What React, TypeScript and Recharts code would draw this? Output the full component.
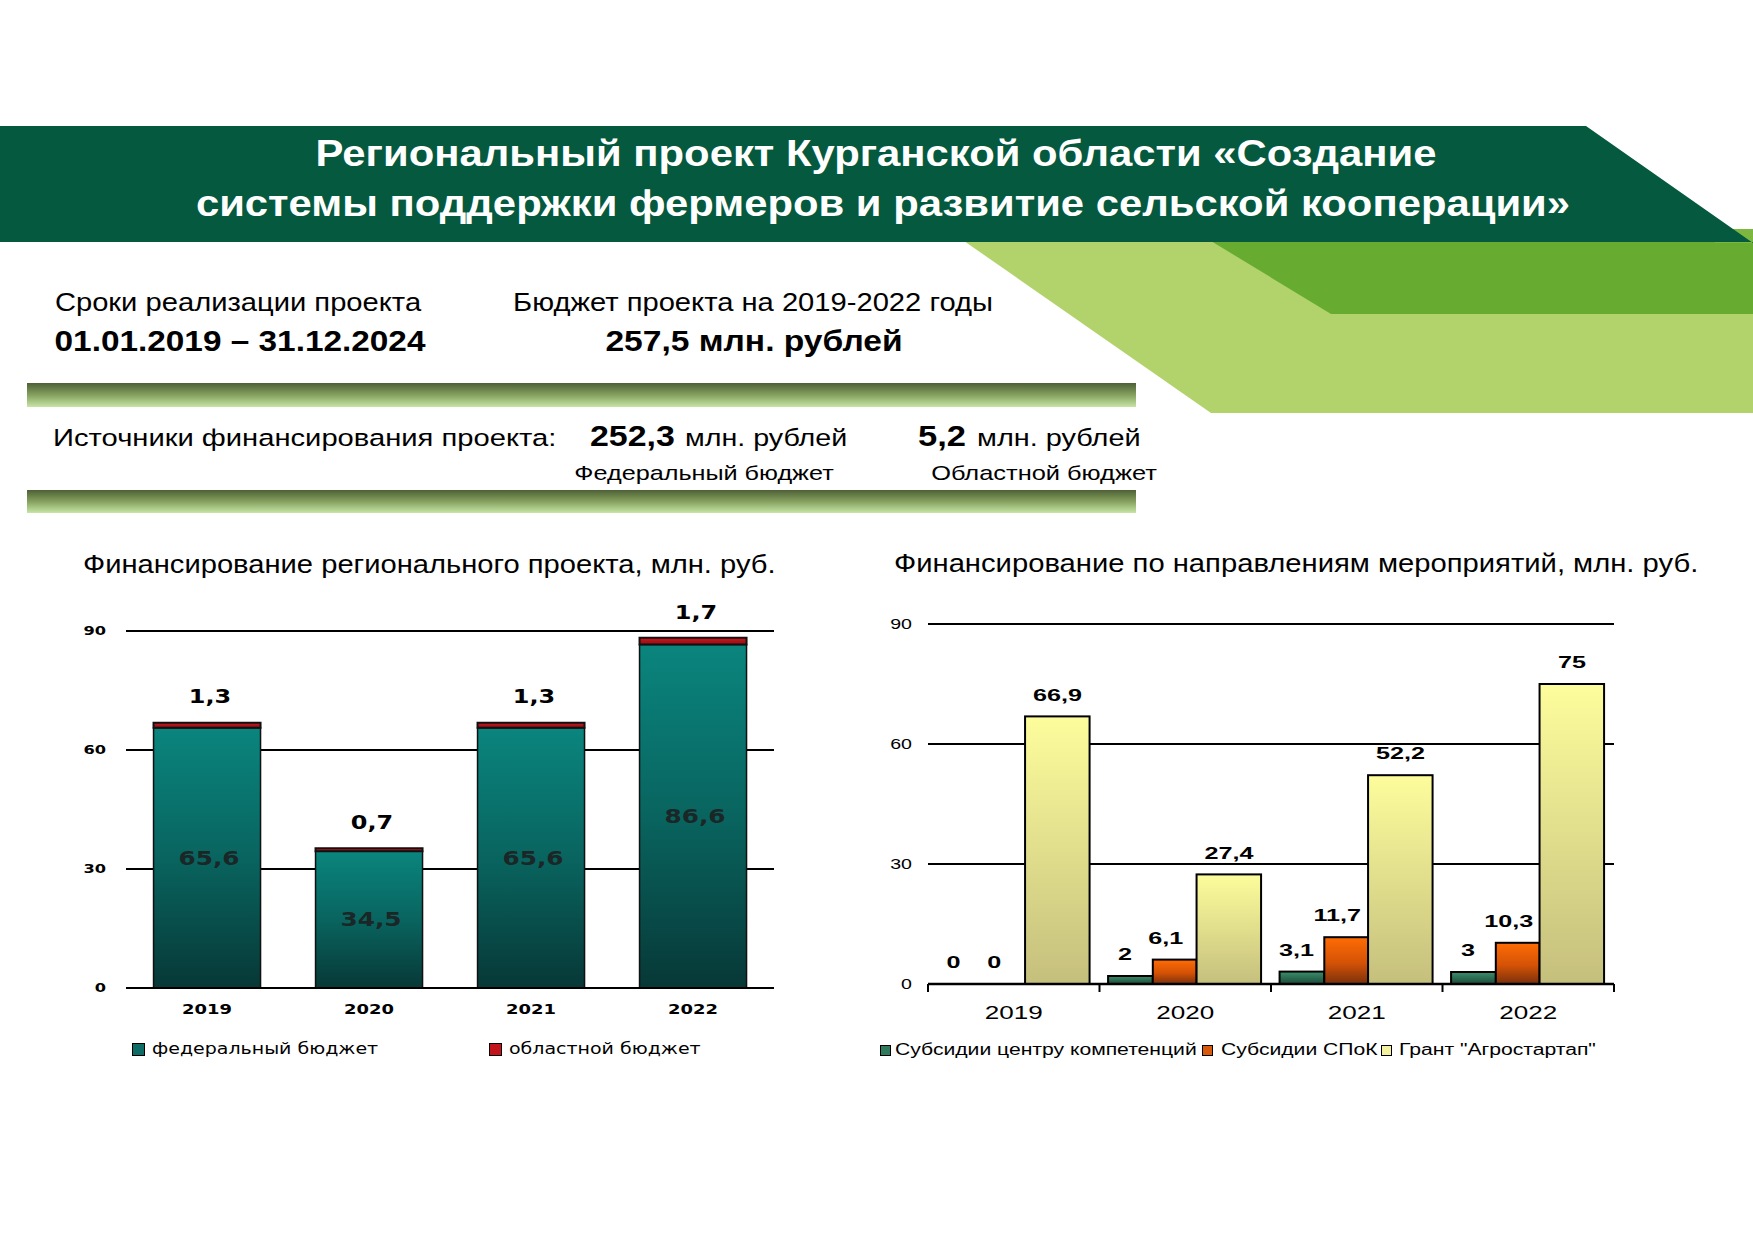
import React from 'react';
import { BarChart, Bar, XAxis, YAxis, CartesianGrid, Legend, LabelList } from 'recharts';

// ---- data ----
const years = ['2019', '2020', '2021', '2022'];
const federalBudget = [65.6, 34.5, 65.6, 86.6];
const regionalBudget = [1.3, 0.7, 1.3, 1.7];
const competenceCenter = [0, 2, 3.1, 3];
const spokSubsidy = [0, 6.1, 11.7, 10.3];
const agrostartGrant = [66.9, 27.4, 52.2, 75];
const valueTicks = [0, 30, 60, 90];

const fundingNames = ['федеральный бюджет', 'областной бюджет'];
const directionNames = ['Субсидии центру компетенций', 'Субсидии СПоК', 'Грант "Агростартап"'];

const fundingData = years.map((year, i) => ({
  year,
  federal: federalBudget[i],
  regional: regionalBudget[i],
}));

const directionsData = years.map((year, i) => ({
  year,
  competence: competenceCenter[i],
  spok: spokSubsidy[i],
  agrostart: agrostartGrant[i],
}));

const comma = (v: any) => String(v).replace('.', ',');

const SANS = '"Liberation Sans", Arial, sans-serif';
const WIDE = '"DejaVu Sans", Verdana, sans-serif';

// page placement of the two charts
const CHART_TOP = 580;
const RIGHT_LEFT = 840;
const RIGHT_BAND = 686 / 4;

// positioned html text, anchored on its baseline, stretched like the slide
const Txt = ({ x, base, size, bold, anchor = 'middle', sx = 1, color = '#000', children }: any) => (
  <div
    style={{
      position: 'absolute',
      left: x,
      top: base - 0.8465 * size,
      fontSize: size,
      lineHeight: `${size}px`,
      fontWeight: bold ? 700 : 400,
      fontFamily: SANS,
      color,
      whiteSpace: 'nowrap',
      transform: anchor === 'middle' ? `translateX(-50%) scaleX(${sx})` : `scaleX(${sx})`,
      transformOrigin: anchor === 'middle' ? '50% 50%' : '0 50%',
    }}
  >
    {children}
  </div>
);

// svg text, vertically centred on y and stretched horizontally
const SText = ({ x, y, sx = 1, anchor = 'middle', size, bold, family, fill = '#000', children }: any) => (
  <text transform={`translate(${x} ${y}) scale(${sx} 1)`} textAnchor={anchor} dy="0.36em"
    fontSize={size} fontWeight={bold ? 700 : 400} fontFamily={family} fill={fill}>
    {children}
  </text>
);

const pick = (payload: any[], name: string) => (payload || []).find((e: any) => e.value === name);

function FundingChart() {
  const yTick = (p: any) => (
    <SText x={106} y={p.y} anchor="end" size={12.3} sx={1.32} bold family={WIDE}>{p.payload.value}</SText>
  );
  const xTick = (p: any) => (
    <SText x={p.x} y={429.3} size={13.7} sx={1.31} bold family={WIDE}>{p.payload.value}</SText>
  );
  const topLabel = (p: any) => (
    <SText x={p.x + p.width / 2 + 3} y={p.y - 26} size={19} sx={1.26} bold family={WIDE}>{comma(p.value)}</SText>
  );
  const innerLabel = (p: any) => (
    <SText x={p.x + p.width / 2 + 2} y={p.y + p.height / 2} size={19} sx={1.3} bold family={WIDE} fill="#1b2626">
      {comma(p.value)}
    </SText>
  );
  const legend = (p: any) => {
    const spots = [132, 489];
    const swatch = ['#0d6c66', '#c3141b'];
    return (
      <div style={{ position: 'relative', width: 820, height: 22 }}>
        {fundingNames.map((name, i) => {
          const e = pick(p.payload, name);
          if (!e) return null;
          return (
            <React.Fragment key={name}>
              <span style={{ position: 'absolute', left: spots[i], top: 5, width: 12.5, height: 12.5, background: swatch[i], border: '1px solid #000', boxSizing: 'border-box' }} />
              <span style={{ position: 'absolute', left: spots[i] + 20, top: 0, lineHeight: '22px', fontFamily: WIDE, fontSize: 15.2, color: '#000', whiteSpace: 'nowrap', transform: 'scaleX(1.25)', transformOrigin: '0 50%' }}>
                {e.value}
              </span>
            </React.Fragment>
          );
        })}
      </div>
    );
  };

  return (
    <div style={{ position: 'absolute', left: 0, top: CHART_TOP }}>
      <BarChart width={820} height={500} data={fundingData} barCategoryGap="17%"
        margin={{ top: 51, right: 46, left: 86, bottom: 52 }}>
        <defs>
          <linearGradient id="fedGrad" x1="0" y1="0" x2="0" y2="1">
            <stop offset="0%" stopColor="#0a857e" />
            <stop offset="50%" stopColor="#09645f" />
            <stop offset="100%" stopColor="#073837" />
          </linearGradient>
          <linearGradient id="regGrad" x1="0" y1="0" x2="0" y2="1">
            <stop offset="0%" stopColor="#d0161e" />
            <stop offset="100%" stopColor="#8e0f13" />
          </linearGradient>
        </defs>
        <CartesianGrid vertical={false} stroke="#000" strokeWidth={2} />
        <XAxis dataKey="year" height={40} interval={0} tickLine={false}
          axisLine={{ stroke: '#000', strokeWidth: 2 }} tick={xTick} />
        <YAxis domain={[0, 90]} ticks={valueTicks} width={40} axisLine={false} tickLine={false} tick={yTick} />
        <Bar dataKey="federal" name={fundingNames[0]} stackId="a" fill="url(#fedGrad)"
          stroke="#111" strokeWidth={1.5} isAnimationActive={false}>
          <LabelList dataKey="federal" content={innerLabel} />
        </Bar>
        <Bar dataKey="regional" name={fundingNames[1]} stackId="a" fill="url(#regGrad)"
          stroke="#111" strokeWidth={2} isAnimationActive={false}>
          <LabelList dataKey="regional" content={topLabel} />
        </Bar>
        <Legend layout="vertical" align="center" verticalAlign="middle" content={legend}
          wrapperStyle={{ top: 458, left: 0, width: 820, height: 22 }} />
      </BarChart>
    </div>
  );
}

// widen / shift bars the way the slide draws them (grant bar is wider)
const barShape = (dx: number, wf: number, fill: string) => (p: any) => {
  if (!p.height || p.height <= 0) return <g />;
  return (
    <rect x={p.x + dx * p.width} y={p.y} width={p.width * wf} height={p.height}
      fill={fill} stroke="#000" strokeWidth={2} />
  );
};

function DirectionsChart() {
  const yTick = (p: any) => (
    <SText x={72} y={p.y} anchor="end" size={14} sx={1.4} family={SANS}>{p.payload.value}</SText>
  );
  const xTick = (p: any) => {
    const half = RIGHT_BAND / 2;
    const axisY = 404;
    return (
      <g>
        <line x1={p.x - half} x2={p.x - half} y1={axisY} y2={axisY + 8} stroke="#000" strokeWidth={2} />
        {p.index === years.length - 1 && (
          <line x1={p.x + half} x2={p.x + half} y1={axisY} y2={axisY + 8} stroke="#000" strokeWidth={2} />
        )}
        <SText x={p.x} y={432.7} size={18} sx={1.45} family={SANS}>{p.payload.value}</SText>
      </g>
    );
  };
  // label anchor as a fraction of the recharts bar width
  const topLabel = (frac: number) => (p: any) => (
    <SText x={p.x + p.width * frac} y={p.y - 22} size={17} sx={1.48} bold family={SANS}>{comma(p.value)}</SText>
  );
  const legend = (p: any) => {
    const boxes = [40, 362, 541];
    const texts = [55, 381, 559];
    const swatch = ['#2f7a5c', '#d95a0a', '#f2f2a0'];
    return (
      <div style={{ position: 'relative', width: 800, height: 22 }}>
        {directionNames.map((name, i) => {
          const e = pick(p.payload, name);
          if (!e) return null;
          return (
            <React.Fragment key={name}>
              <span style={{ position: 'absolute', left: boxes[i], top: 5.5, width: 11, height: 11, background: swatch[i], border: '1.5px solid #000', boxSizing: 'border-box' }} />
              <span style={{ position: 'absolute', left: texts[i], top: 0, lineHeight: '22px', fontFamily: SANS, fontSize: 16, color: '#000', whiteSpace: 'nowrap', transform: 'scaleX(1.32)', transformOrigin: '0 50%' }}>
                {e.value}
              </span>
            </React.Fragment>
          );
        })}
      </div>
    );
  };

  return (
    <div style={{ position: 'absolute', left: RIGHT_LEFT, top: CHART_TOP }}>
      <BarChart width={800} height={500} data={directionsData} barCategoryGap="5%" barGap={0}
        margin={{ top: 44, right: 26, left: 48, bottom: 56 }}>
        <defs>
          <linearGradient id="cmpGrad" x1="0" y1="0" x2="0" y2="1">
            <stop offset="0%" stopColor="#3b8f6d" />
            <stop offset="100%" stopColor="#1c4a39" />
          </linearGradient>
          <linearGradient id="spokGrad" x1="0" y1="0" x2="0" y2="1">
            <stop offset="0%" stopColor="#ff6c04" />
            <stop offset="55%" stopColor="#d45206" />
            <stop offset="100%" stopColor="#7a300c" />
          </linearGradient>
          <linearGradient id="grantGrad" x1="0" y1="0" x2="0" y2="1">
            <stop offset="0%" stopColor="#fdfd9c" />
            <stop offset="100%" stopColor="#c5bf7d" />
          </linearGradient>
        </defs>
        <CartesianGrid vertical={false} stroke="#000" strokeWidth={2} />
        <XAxis dataKey="year" height={40} interval={0} tickLine={false}
          axisLine={{ stroke: '#000', strokeWidth: 2.5 }} tick={xTick} />
        <YAxis domain={[0, 90]} ticks={valueTicks} width={40} axisLine={false} tickLine={false} tick={yTick} />
        <Bar dataKey="competence" name={directionNames[0]} isAnimationActive={false}
          shape={barShape(0, 0.877, 'url(#cmpGrad)')}>
          <LabelList dataKey="competence" content={topLabel(0.33)} />
        </Bar>
        <Bar dataKey="spok" name={directionNames[1]} isAnimationActive={false}
          shape={barShape(-0.123, 0.858, 'url(#spokGrad)')}>
          <LabelList dataKey="spok" content={topLabel(0.13)} />
        </Bar>
        <Bar dataKey="agrostart" name={directionNames[2]} isAnimationActive={false}
          shape={barShape(-0.265, 1.265, 'url(#grantGrad)')}>
          <LabelList dataKey="agrostart" content={topLabel(0.37)} />
        </Bar>
        <Legend layout="vertical" align="center" verticalAlign="middle" content={legend}
          wrapperStyle={{ top: 459, left: 0, width: 800, height: 22 }} />
      </BarChart>
    </div>
  );
}

export default function App() {
  return (
    <div style={{ position: 'absolute', left: 0, top: 0, width: 1753, height: 1240, background: '#fff', overflow: 'hidden' }}>
      <svg width={1753} height={1240} style={{ position: 'absolute', left: 0, top: 0 }}>
        <defs>
          <linearGradient id="stripe" x1="0" y1="0" x2="0" y2="1">
            <stop offset="0%" stopColor="#4d6035" />
            <stop offset="50%" stopColor="#86a15f" />
            <stop offset="100%" stopColor="#c6e6a6" />
          </linearGradient>
        </defs>
        <polygon points="964,241 1753,241 1753,413 1211,413" fill="#b2d36c" />
        <polygon points="1211,241 1753,241 1753,314 1331,314" fill="#68ab31" />
        <rect x={1715} y={229} width={38} height={14} fill="#7cb840" />
        <polygon points="0,126 1586,126 1753,243 1753,242 0,242" fill="#04593e" />
        <rect x={27} y={383} width={1109} height={24} fill="url(#stripe)" />
        <rect x={27} y={490} width={1109} height={23} fill="url(#stripe)" />
      </svg>

      <Txt x={876} base={166} size={37} bold sx={1.13} color="#fff">
        Региональный проект Курганской области «Создание
      </Txt>
      <Txt x={883} base={216} size={37} bold sx={1.13} color="#fff">
        системы поддержки фермеров и развитие сельской кооперации»
      </Txt>

      <Txt x={238} base={311.7} size={26.5} sx={1.1}>Сроки реализации проекта</Txt>
      <Txt x={239.5} base={351.7} size={29} bold sx={1.15}>01.01.2019 – 31.12.2024</Txt>
      <Txt x={753} base={311.7} size={26.5} sx={1.1}>Бюджет проекта на 2019-2022 годы</Txt>
      <Txt x={753.5} base={351.7} size={29} bold sx={1.157}>257,5 млн. рублей</Txt>

      <Txt x={53} base={446.7} size={24.5} anchor="start" sx={1.19}>Источники финансирования проекта:</Txt>
      <Txt x={590} base={446.7} size={29} bold anchor="start" sx={1.17}>252,3</Txt>
      <Txt x={685} base={446.7} size={24.5} anchor="start" sx={1.17}>млн. рублей</Txt>
      <Txt x={918} base={446.7} size={29} bold anchor="start" sx={1.19}>5,2</Txt>
      <Txt x={977} base={446.7} size={24.5} anchor="start" sx={1.18}>млн. рублей</Txt>
      <Txt x={704} base={480} size={21} sx={1.2}>Федеральный бюджет</Txt>
      <Txt x={1044} base={480} size={21} sx={1.21}>Областной бюджет</Txt>

      <Txt x={83} base={573.3} size={25.5} anchor="start" sx={1.143}>
        Финансирование регионального проекта, млн. руб.
      </Txt>
      <Txt x={894} base={573} size={25.5} anchor="start" sx={1.145}>
        Финансирование по направлениям мероприятий, млн. руб.
      </Txt>

      <FundingChart />
      <DirectionsChart />
    </div>
  );
}
